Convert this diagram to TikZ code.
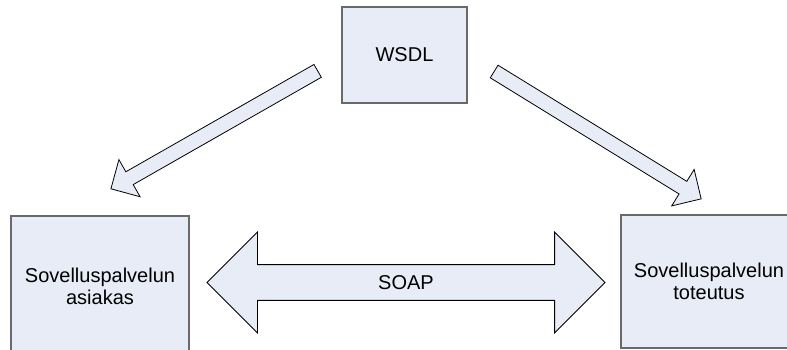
\documentclass[tikz,border=0pt]{standalone}
\usepackage{fontspec}
\setmainfont{Liberation Sans}
\usetikzlibrary{shapes.arrows}

\definecolor{boxfill}{RGB}{232,236,246}
\definecolor{boxline}{RGB}{105,105,105}

\tikzset{
  block/.style={draw=boxline, line width=1.1pt, fill=boxfill, align=center,
    font=\fontsize{15}{16.5}\selectfont, inner sep=0pt},
  bigarrow/.style={single arrow, draw=black, line width=0.6pt, fill=boxfill,
    inner xsep=0pt, inner ysep=5.25pt, minimum width=0pt,
    single arrow head extend=10.5pt},
  bothways/.style={double arrow, draw=black, line width=0.6pt, fill=boxfill,
    font=\fontsize{15}{16.5}\selectfont, text height=11pt, text depth=0pt,
    inner xsep=0pt, inner ysep=7.6pt, minimum width=0pt,
    double arrow head extend=24.4pt}
}

\begin{document}
\begin{tikzpicture}[x=0.75pt,y=0.75pt,yscale=-1,xscale=1]
\useasboundingbox (0,0) rectangle (787,349);
\clip (0,0) rectangle (787,349);

%Shape: Rectangle (top)
\node[block, minimum width=93.75pt, minimum height=72pt] (wsdl) at (404.5,55) {WSDL};

%Shape: Rectangle (left)
\node[block, minimum width=133.5pt, minimum height=105pt] (asiakas) at (100,286)
  {Sovelluspalvelun\\asiakas};

%Shape: Rectangle (right)
\node[block, minimum width=132pt, minimum height=99.75pt] (toteutus) at (709,281.5)
  {Sovelluspalvelun\\toteutus};

%Shape: Right Arrow (down left)
\node[bigarrow, minimum height=178.5pt, rotate=209.7] (toasiakas) at (217.5,128) {};

%Shape: Right Arrow (down right)
\node[bigarrow, minimum height=182.3pt, rotate=-31.6] (tototeutus) at (594.5,133.25) {};

%Shape: Double Arrow
\node[bothways, minimum height=298.5pt] (soap) at (406,282.5) {SOAP};

\end{tikzpicture}
\end{document}
